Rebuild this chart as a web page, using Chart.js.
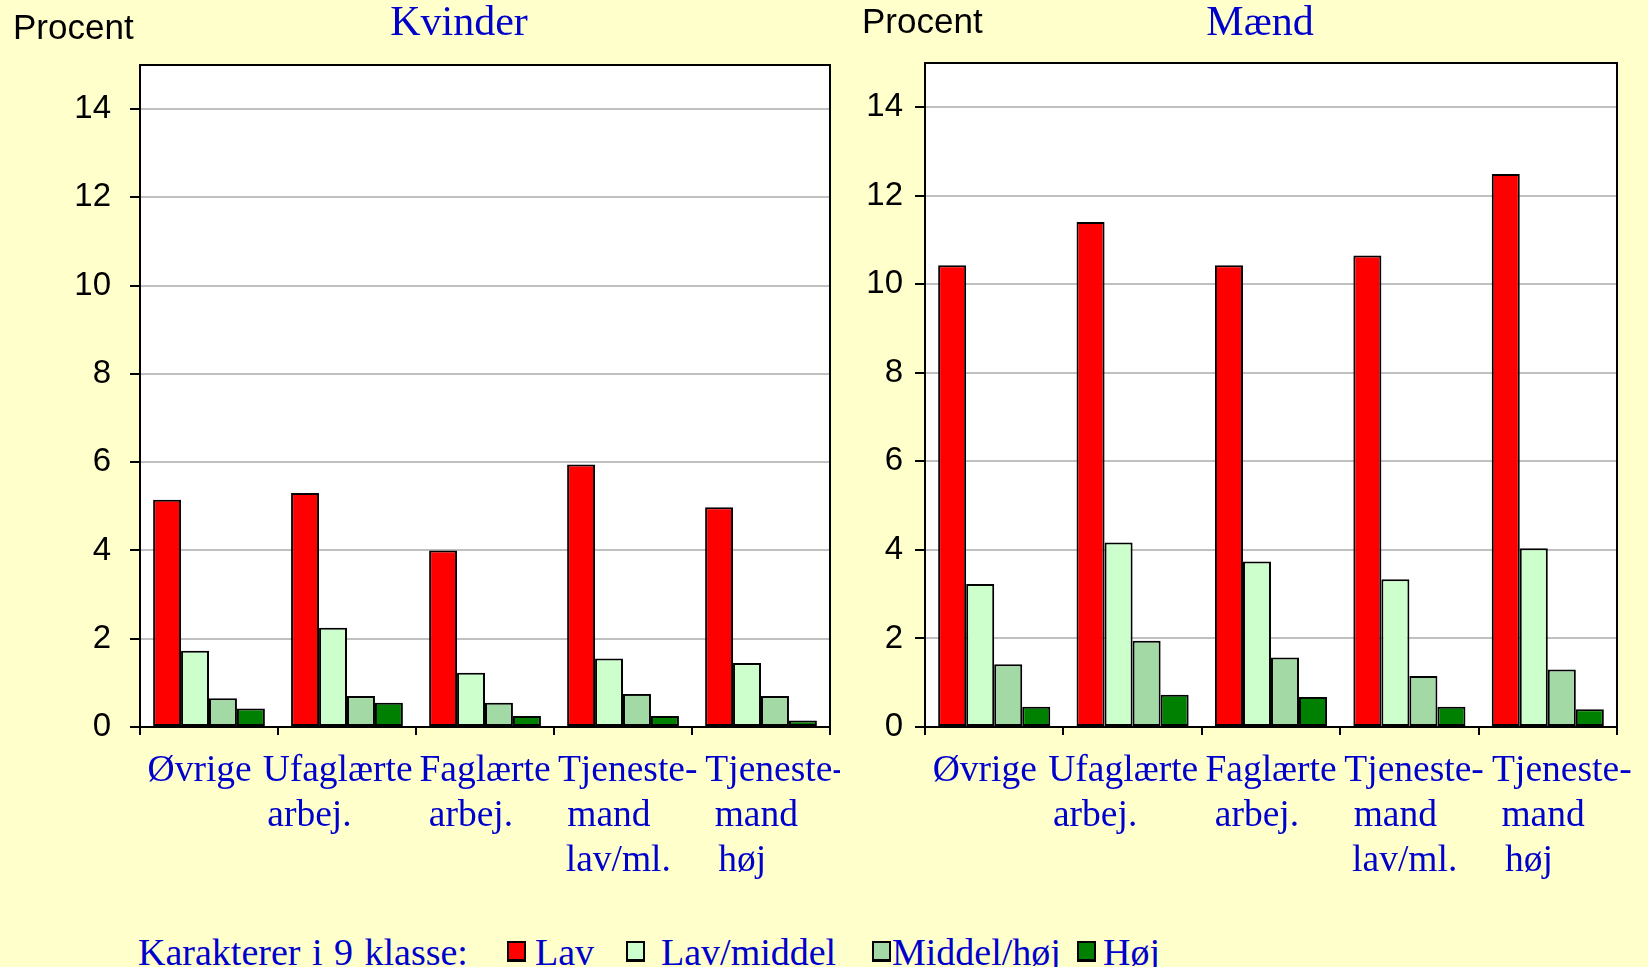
<!DOCTYPE html>
<html>
<head>
<meta charset="utf-8">
<script src="https://cdn.jsdelivr.net/npm/chart.js@4"></script>
<style>
  body { margin: 0; background: #FFFFCC; width: 1648px; height: 967px; overflow: hidden; position: relative; }
  .txt { position: absolute; white-space: nowrap; }
  .procent { font-family: "Liberation Sans", Arial, sans-serif; font-size: 35px; line-height: 35px; color: #000; }
  .serif { font-family: "Liberation Serif", "Times New Roman", serif; color: #0000CC; }
  .titel { font-size: 42px; line-height: 42px; width: 200px; text-align: center; }
  .leg { font-size: 38px; line-height: 38px; }
  .box { position: absolute; width: 15px; height: 16px; border: 2px solid #000; border-bottom-width: 3px; }
  #left { position: absolute; left: 0; top: 0; }
  #right { position: absolute; left: 840px; top: 0; }
</style>
</head>
<body>
<canvas id="left" width="840" height="900"></canvas>
<canvas id="right" width="808" height="900"></canvas>

<div class="txt procent" style="left:13px; top:9px;">Procent</div>
<div class="txt procent" style="left:862px; top:3px;">Procent</div>
<div class="txt serif titel" style="left:359px; top:0px;">Kvinder</div>
<div class="txt serif titel" style="left:1160px; top:0px;">Mænd</div>
<div id="legend"></div>

<script>
// categories (x axis)
const categories = [
  ["Øvrige"],
  ["Ufaglærte", "arbej."],
  ["Faglærte", "arbej."],
  ["Tjeneste-", "mand", "lav/ml."],
  ["Tjeneste-", "mand", "høj"]
];

const seriesNames = ["Lav", "Lav/middel", "Middel/høj", "Høj"];
const seriesColors = ["#FF0000", "#CCFFCC", "#A3D9A5", "#008000"];

// Kvinder
const kvinderLav = [5.15, 5.3, 4.0, 5.95, 4.98];
const kvinderLavMiddel = [1.73, 2.25, 1.23, 1.55, 1.45];
const kvinderMiddelHoj = [0.65, 0.7, 0.55, 0.75, 0.7];
const kvinderHoj = [0.42, 0.55, 0.25, 0.25, 0.15];

// Mænd
const maendLav = [10.43, 11.41, 10.43, 10.65, 12.49];
const maendLavMiddel = [3.23, 4.17, 3.74, 3.34, 4.04];
const maendMiddelHoj = [1.42, 1.95, 1.57, 1.15, 1.3];
const maendHoj = [0.46, 0.73, 0.68, 0.46, 0.4];

const yMax = 15;
const yTicks = [0, 2, 4, 6, 8, 10, 12, 14];

// the labels in the original are not quite centred: pad lines with spaces
// (+n = n leading spaces, -n = n trailing spaces)
const labelShift = [[-2], [-2, -8], [0, -3], [1, -3, -1], [3, -1, -4]];
function shiftLabel(line, n) {
  const pad = " ".repeat(Math.abs(n));
  return n > 0 ? pad + line : line + pad;
}

// white plot area + black frame
const plotFrame = {
  id: "plotFrame",
  beforeDraw(chart) {
    const { ctx, chartArea: a } = chart;
    ctx.save();
    ctx.fillStyle = "#fff";
    ctx.fillRect(a.left, a.top, a.right - a.left, a.bottom - a.top);
    ctx.restore();
  },
  afterDraw(chart) {
    const { ctx, chartArea: a } = chart;
    ctx.save();
    ctx.strokeStyle = "#000";
    ctx.lineWidth = 2;
    ctx.strokeRect(a.left, a.top, a.right - a.left, a.bottom - a.top);
    ctx.restore();
  }
};

function makeChart(id, values, yWidth, yPad, padTop, padRight) {
  const datasets = values.map((v, i) => ({
    label: seriesNames[i],
    data: v,
    backgroundColor: seriesColors[i],
    borderColor: "#000",
    borderWidth: 2,
    borderSkipped: false,
    categoryPercentage: 0.81,
    barPercentage: 1
  }));
  return new Chart(document.getElementById(id), {
    type: "bar",
    data: { labels: categories, datasets: datasets },
    options: {
      responsive: false,
      animation: false,
      layout: { padding: { top: padTop, right: padRight, left: 0, bottom: 0 } },
      plugins: { legend: { display: false }, tooltip: { enabled: false } },
      scales: {
        x: {
          grid: { drawOnChartArea: false, drawTicks: true, tickLength: 8, color: "#000", lineWidth: 2 },
          border: { color: "#000", width: 2 },
          ticks: {
            autoSkip: false, maxRotation: 0, minRotation: 0, padding: 14,
            color: "#0000CC",
            font: { family: "'Liberation Serif', 'Times New Roman', serif", size: 37.5, lineHeight: 45 / 37.5 },
            callback: (val, i) => categories[i].map((line, j) => shiftLabel(line, labelShift[i][j]))
          },
          afterFit: (s) => {
            s.height = 900 - 727;
            s.paddingLeft = 0;
            s.paddingRight = 0;
          }
        },
        y: {
          min: 0, max: yMax,
          afterBuildTicks: (s) => { s.ticks = yTicks.map((v) => ({ value: v })); },
          grid: { color: "#C0C0C0", lineWidth: 2, tickColor: "#000", tickLength: 10 },
          border: { color: "#000", width: 2 },
          ticks: {
            padding: yPad, color: "#000",
            font: { family: "'Liberation Sans', Arial, sans-serif", size: 33 }
          },
          afterFit: (s) => { s.width = yWidth; }
        }
      }
    },
    plugins: [plotFrame]
  });
}

makeChart("left", [kvinderLav, kvinderLavMiddel, kvinderMiddelHoj, kvinderHoj], 140, 19, 65, 10);
makeChart("right", [maendLav, maendLavMiddel, maendMiddelHoj, maendHoj], 85, 12, 63, 31);

// legend under the charts
const legendBoxX = [507, 626, 872, 1077];
const legendTextX = [535, 661, 892, 1103];
const legend = document.getElementById("legend");
let html = '<div class="txt serif leg" style="left:138px; top:933px; word-spacing:2px;">Karakterer i 9 klasse:</div>';
seriesNames.forEach((name, i) => {
  html += '<div class="box" style="left:' + legendBoxX[i] + 'px; top:941px; background:' + seriesColors[i] + ';"></div>';
  html += '<div class="txt serif leg" style="left:' + legendTextX[i] + 'px; top:933px;">' + name + '</div>';
});
legend.innerHTML = html;
</script>
</body>
</html>
